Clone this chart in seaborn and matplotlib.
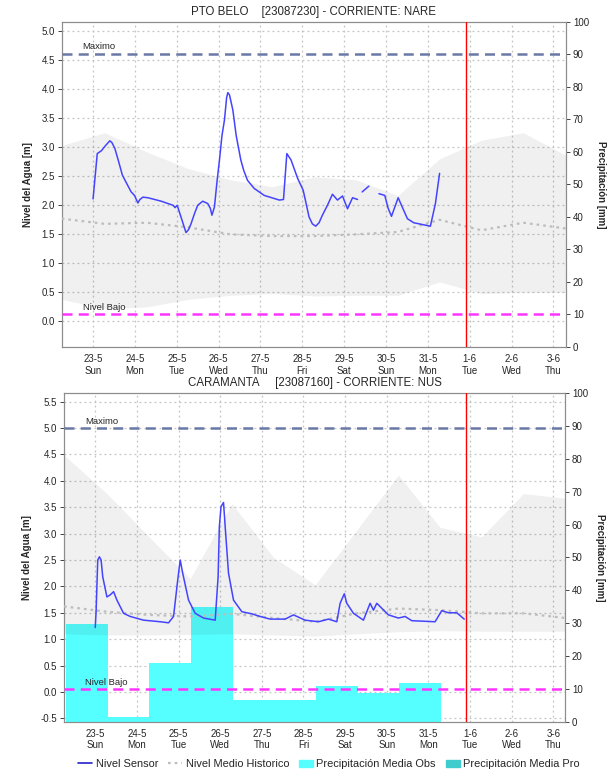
import numpy as np
import pandas as pd
import seaborn as sns
import matplotlib
matplotlib.use("Agg")
import matplotlib.pyplot as plt
from matplotlib.lines import Line2D
from matplotlib.patches import Patch

# x axis: days since 23-5 (0 = 23-5)
dias = ["23-5", "24-5", "25-5", "26-5", "27-5", "28-5", "29-5", "30-5", "31-5", "1-6", "2-6", "3-6"]
semana = ["Sun", "Mon", "Tue", "Wed", "Thu", "Fri", "Sat", "Sun", "Mon", "Tue", "Wed", "Thu"]
ahora = 8.9

# ---- PTO BELO ----
belo_t = [0.00, 0.10, 0.20, 0.30, 0.40, 0.45, 0.52, 0.60, 0.70, 0.80, 0.91, 0.99, 1.07, 1.12, 1.19,
          1.31, 1.63, 1.91, 1.96, 2.01, 2.10, 2.22, 2.28, 2.34, 2.42, 2.50, 2.62, 2.74, 2.80, 2.84,
          2.90, 2.96, 3.02, 3.08, 3.14, 3.19, 3.22, 3.26, 3.34, 3.42, 3.53, 3.60, 3.69, 3.85, 4.09,
          4.45, 4.55, 4.58, 4.63, 4.73, 4.89, 5.02, 5.10, 5.16, 5.24, 5.32, 5.40, 5.48, 5.60, 5.72,
          5.84, 5.96, 6.08, 6.20, 6.32, 6.37, 6.43, 6.59, 6.70, 6.83, 6.97, 7.05, 7.13, 7.20, 7.29,
          7.40, 7.51, 7.66, 7.86, 8.06, 8.18, 8.28]
belo_nivel = [2.11, 2.89, 2.94, 3.03, 3.11, 3.08, 2.98, 2.78, 2.52, 2.38, 2.23, 2.17, 2.04, 2.10, 2.14,
              2.13, 2.07, 2.00, 1.96, 2.00, 1.80, 1.53, 1.58, 1.68, 1.85, 2.00, 2.07, 2.03, 1.95, 1.83,
              1.97, 2.40, 2.78, 3.20, 3.47, 3.85, 3.94, 3.90, 3.64, 3.20, 2.78, 2.60, 2.43, 2.29, 2.17,
              2.09, 2.10, 2.40, 2.89, 2.78, 2.46, 2.26, 2.00, 1.80, 1.68, 1.64, 1.70, 1.83, 2.00, 2.19,
              2.09, 2.16, 1.94, 2.13, 2.10, np.nan, 2.23, 2.33, np.nan, 2.20, 2.17, 1.95, 1.81, 1.95, 2.13,
              1.95, 1.77, 1.70, 1.67, 1.64, 2.03, 2.55]
hist_t = [-0.75, 0.28, 1.28, 2.28, 3.28, 4.28, 5.28, 6.28, 7.28, 8.28, 9.28, 10.28, 11.3]
belo_banda_sup = [3.03, 3.25, 2.92, 2.63, 2.44, 2.32, 2.49, 2.44, 2.17, 2.80, 3.12, 3.25, 2.86]
belo_banda_inf = [0.38, 0.22, 0.25, 0.38, 0.45, 0.48, 0.44, 0.45, 0.45, 0.68, 0.48, 0.50, 0.50]
belo_medio = [1.77, 1.68, 1.70, 1.62, 1.50, 1.47, 1.47, 1.50, 1.54, 1.75, 1.57, 1.70, 1.60]
belo_max, belo_bajo = 4.61, 0.13

# ---- CARAMANTA ----
cara_t = [0.00, 0.02, 0.06, 0.10, 0.14, 0.18, 0.28, 0.36, 0.44, 0.52, 0.68, 0.84, 1.16, 1.56, 1.76,
          1.88, 1.98, 2.04, 2.10, 2.24, 2.40, 2.60, 2.88, 2.95, 2.98, 3.02, 3.08, 3.12, 3.20, 3.32,
          3.52, 3.76, 3.96, 4.20, 4.56, 4.76, 5.04, 5.36, 5.60, 5.80, 5.88, 5.98, 6.04, 6.20, 6.44,
          6.60, 6.68, 6.76, 7.04, 7.28, 7.44, 7.60, 8.16, 8.32, 8.48, 8.68, 8.86]
cara_nivel = [1.22, 1.52, 2.50, 2.56, 2.50, 2.18, 1.80, 1.84, 1.90, 1.74, 1.49, 1.43, 1.36, 1.33, 1.31,
              1.43, 2.12, 2.50, 2.25, 1.74, 1.49, 1.40, 1.36, 2.18, 3.13, 3.51, 3.59, 3.13, 2.25, 1.74,
              1.52, 1.48, 1.43, 1.38, 1.38, 1.46, 1.36, 1.33, 1.38, 1.33, 1.68, 1.86, 1.68, 1.49, 1.36,
              1.68, 1.55, 1.68, 1.46, 1.40, 1.43, 1.35, 1.33, 1.54, 1.50, 1.50, 1.38]
cara_banda_sup = [4.49, 3.76, 2.95, 2.15, 3.57, 2.55, 2.03, 3.07, 4.11, 3.12, 2.94, 3.76, 3.67]
cara_banda_inf = [1.10, 1.08, 1.08, 1.09, 1.10, 1.08, 1.06, 1.10, 1.14, 1.16, 1.15, 1.15, 1.15]
cara_medio = [1.62, 1.52, 1.46, 1.43, 1.48, 1.40, 1.33, 1.49, 1.58, 1.55, 1.49, 1.49, 1.40]
cara_max, cara_bajo = 5.0, 0.06
lluvia_dia = [0, 1, 2, 3, 4, 5, 6, 7, 8]
lluvia_obs = [29.7, 1.5, 17.8, 35.0, 6.6, 6.6, 10.9, 8.6, 11.9]

AZUL = "#4444ff"
GRIS = "#bdbdbd"
CIAN = "#55ffff"
CIAN_PRO = "#3fcccc"

sns.set_style("white")
plt.rcParams["font.family"] = ["Liberation Sans", "DejaVu Sans"]
plt.rcParams["axes.edgecolor"] = "#8c8c8c"

fig = plt.figure(figsize=(6.15, 7.76), dpi=100)


def panel(rect, titulo, xlim, ylim, yticks, t, nivel, banda_sup, banda_inf, medio, maximo, bajo, lluvia=None):
    ax2 = fig.add_axes(rect)
    ax = ax2.twinx()
    # ax holds the water level (left), ax2 the precipitation (right)
    ax.yaxis.tick_left()
    ax.yaxis.set_label_position("left")
    ax2.yaxis.tick_right()
    ax2.yaxis.set_label_position("right")
    ax.set_zorder(2)
    ax2.set_zorder(1)
    ax.patch.set_visible(False)

    ax.set_xlim(xlim)
    ax.set_ylim(ylim)
    ax2.set_ylim(0, 100)
    ax2.set_yticks(range(0, 101, 10))

    # grid lives on ax2 so that the bars hide it
    ax2.set_yticks([(v - ylim[0]) / (ylim[1] - ylim[0]) * 100 for v in yticks], minor=True)
    ax2.grid(True, which="minor", axis="y", color="#c4c4c4", ls=(0, (1.5, 2.5)), lw=0.9)
    ax2.grid(True, which="major", axis="x", color="#c4c4c4", ls=(0, (1.5, 2.5)), lw=0.9)
    ax2.tick_params(axis="y", which="minor", length=0)

    if lluvia is not None:
        ax2.bar(np.array(lluvia[0]) - 0.7, lluvia[1], width=1.0, align="edge", color=CIAN, lw=0, zorder=2)

    ax.fill_between(hist_t, banda_inf, banda_sup, color="black", alpha=0.06, lw=0, zorder=1)
    df_m = pd.DataFrame({"t": hist_t, "v": medio})
    sns.lineplot(data=df_m, x="t", y="v", ax=ax, color=GRIS, lw=1.6, ls=(0, (1.2, 1.8)), zorder=3)

    df = pd.DataFrame({"t": t, "v": nivel})
    df["tramo"] = df["v"].isna().cumsum()
    df = df.dropna()
    sns.lineplot(data=df, x="t", y="v", units="tramo", estimator=None, ax=ax, color=AZUL, lw=1.1,
                 sort=False, zorder=4)

    ax.axhline(maximo, color="#6a78a6", lw=1.8, ls=(0, (4, 2.5)), zorder=5)
    ax.axhline(bajo, color="#ff33ff", lw=1.8, ls=(0, (4, 2.5)), zorder=5)
    ax.text(-0.25, maximo + 0.04, "Maximo", fontsize=6.8, va="bottom", zorder=6)
    ax.text(-0.25, bajo + 0.04, "Nivel Bajo", fontsize=6.8, va="bottom", zorder=6)
    ax.axvline(ahora, color="red", lw=1.0, zorder=6)

    ax.set_yticks(yticks)
    ax.set_yticklabels([f"{v:.1f}" for v in yticks])
    ax2.set_xticks(range(len(dias)))
    ax2.set_xticklabels([f"{d}\n{s}" for d, s in zip(dias, semana)])
    ax2.set_xticks(np.arange(-0.75, 11.3, 1 / 12), minor=True)
    ax2.tick_params(axis="x", which="minor", length=2, width=0.6, color="#555555")
    ax2.tick_params(axis="x", which="major", length=3, width=0.6, labelsize=7, pad=2)
    ax2.tick_params(axis="y", which="major", length=3, width=0.6, labelsize=7, pad=2)
    ax.tick_params(axis="y", length=3, width=0.6, labelsize=7, pad=2)
    ax.set_xlabel("")
    ax2.set_xlabel("")
    ax.set_ylabel("Nivel del Agua [m]", fontsize=7, fontweight="bold", labelpad=6)
    ax2.set_ylabel("Precipitación [mm]", fontsize=7, fontweight="bold", rotation=270, labelpad=12)
    ax2.set_title(titulo, fontsize=8.3, pad=5)
    for a in (ax, ax2):
        for s in a.spines.values():
            s.set_linewidth(0.8)
            s.set_color("#8c8c8c")
    return ax, ax2


panel([0.1003, 0.5528, 0.8200, 0.4192], "PTO BELO    [23087230] - CORRIENTE: NARE",
      (-0.715, 11.30), (-0.44, 5.16), np.arange(0.0, 5.01, 0.5),
      belo_t, belo_nivel, belo_banda_sup, belo_banda_inf, belo_medio, belo_max, belo_bajo)

panel([0.1041, 0.0700, 0.8146, 0.4232], "CARAMANTA     [23087160] - CORRIENTE: NUS",
      (-0.744, 11.28), (-0.564, 5.66), np.arange(-0.5, 5.51, 0.5),
      cara_t, cara_nivel, cara_banda_sup, cara_banda_inf, cara_medio, cara_max, cara_bajo,
      lluvia=(lluvia_dia, lluvia_obs))

handles = [
    Line2D([], [], color="#2222cc", lw=1.2),
    Line2D([], [], color=GRIS, lw=1.6, ls=(0, (1.2, 1.8))),
    Patch(color=CIAN),
    Patch(color=CIAN_PRO),
]
labels = ["Nivel Sensor", "Nivel Medio Historico", "Precipitación Media Obs", "Precipitación Media Pro"]
fig.legend(handles, labels, loc="lower center", bbox_to_anchor=(0.535, -0.004), ncol=4, frameon=False,
           fontsize=7.9, handlelength=1.3, handletextpad=0.3, columnspacing=0.9)

fig.savefig("out.png", dpi=100)
